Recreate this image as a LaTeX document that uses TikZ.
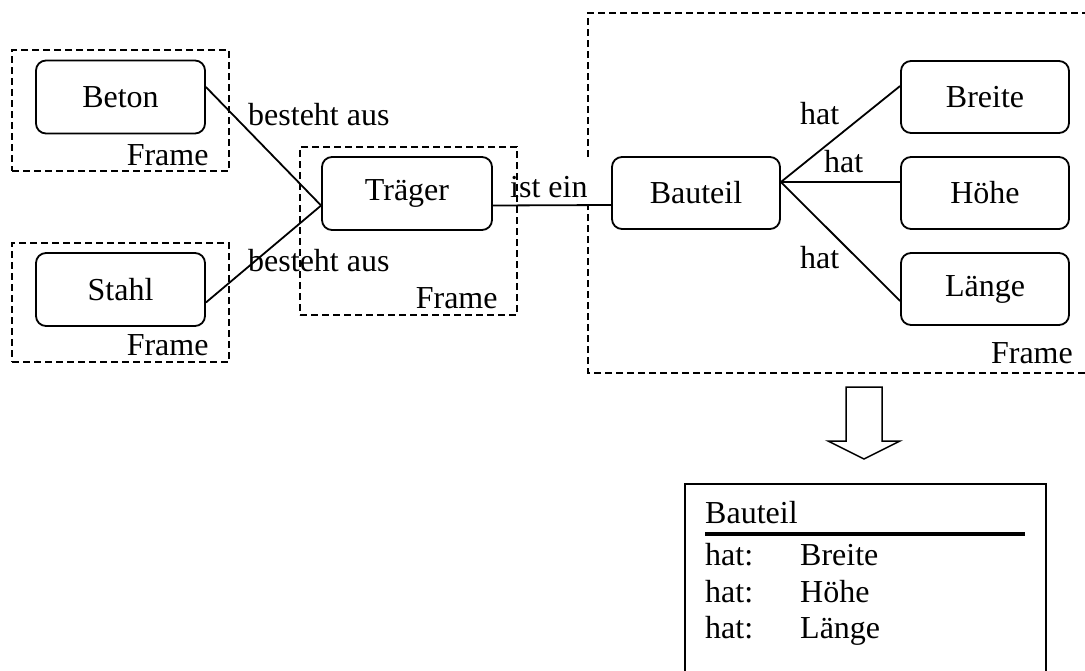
\documentclass[tikz,border=0pt]{standalone}
\usepackage{fontspec}
\setmainfont{Liberation Serif}
\usetikzlibrary{calc}
\begin{document}
\begin{tikzpicture}[x=1pt,y=-1pt,
  every node/.style={font=\fontsize{32}{38}\selectfont},
  conbox/.style={draw, line width=1.8pt, rounded corners=10pt, minimum width=169pt, minimum height=73pt, inner sep=0pt},
  framebox/.style={draw, line width=1.5pt, dash pattern=on 7pt off 4pt, inner sep=0pt},
  frameline/.style={line width=1.5pt, dash pattern=on 7pt off 4pt},
  lbl/.style={anchor=base west, inner sep=0pt},
  framelbl/.style={anchor=base east, inner sep=0pt},
  link/.style={line width=1.8pt}]
\fill[white] (0,0) rectangle (1085,670);
\useasboundingbox (0,0) rectangle (1085,670);

% dashed frames on the left
\node[framebox, minimum width=217pt, minimum height=121pt] (f1) at (120.5,110.5) {};
\node[framebox, minimum width=217pt, minimum height=119pt] (f2) at (120.5,302.5) {};
\node[framebox, minimum width=217pt, minimum height=168pt] (f3) at (408.5,231) {};
\node[framelbl] (fl1) at ([xshift=-21pt,yshift=6pt]f1.south east) {Frame};
\node[framelbl] (fl2) at ([xshift=-21pt,yshift=7pt]f2.south east) {Frame};
\node[framelbl] (fl3) at ([xshift=-20pt,yshift=7pt]f3.south east) {Frame};

% large frame around the component, open at its left for the link
\coordinate (bf1) at (588,157);
\coordinate (bf2) at (588,13);
\coordinate (bf3) at (1085,13);
\coordinate (bf4) at (1085,373);
\coordinate (bf5) at (588,373);
\coordinate (bf6) at (588,205);
\draw[frameline] (bf1) -- (bf2) -- (bf3);
\draw[frameline] (bf4) -- (bf5) -- (bf6);
\node[framelbl] (fl4) at (1073,363) {Frame};

% concept boxes
\node[conbox] (beton) at (120.5,97) {Beton};
\node[conbox] (stahl) at (120.5,289.5) {Stahl};
\node[conbox, minimum width=170pt] (traeger) at (407,193.5) {Träger};
\node[conbox, minimum width=168pt, minimum height=72pt] (bauteil) at (696,193) {Bauteil};
\node[conbox, minimum width=168pt, minimum height=72pt] (breite) at (985,97) {Breite};
\node[conbox, minimum width=168pt, minimum height=72pt] (hoehe) at (985,193) {Höhe};
\node[conbox, minimum width=168pt, minimum height=72pt] (laenge) at (985,289) {Länge};

% relations
\draw[link] ([yshift=10pt]beton.east) -- ([yshift=-12pt]traeger.west);
\draw[link] ([yshift=-13pt]stahl.east) -- ([yshift=-12pt]traeger.west);
\draw[link] ([yshift=-12pt]traeger.east) -- ([yshift=-12pt]bauteil.west);
\draw[link] ([yshift=11pt]bauteil.east) -- ([yshift=11pt]breite.west);
\draw[link] ([yshift=11pt]bauteil.east) -- ([yshift=11pt]hoehe.west);
\draw[link] ([yshift=11pt]bauteil.east) -- ([yshift=-12pt]laenge.west);

\node[lbl] (r1) at (248,125) {besteht aus};
\node[lbl] (r2) at (248,271) {besteht aus};
\node[lbl] (r3) at (510,197) {ist ein};
\node[lbl] (r4) at (800,124) {hat};
\node[lbl] (r5) at (824,172) {hat};
\node[lbl] (r6) at (800,268) {hat};

% block arrow
\draw[line width=1.5pt, line join=miter] (846,387) -- (882,387) -- (882,441) -- (900,441) -- (864,459) -- (828,441) -- (846,441) -- cycle;

% resulting class box
\node[draw, line width=1.5pt, anchor=north west, minimum width=361pt, minimum height=220pt, inner sep=0pt] (cls) at (684,483) {};
\node[lbl] (cname) at (705,523) {Bauteil};
\draw[line width=3.5pt] (705,534) -- (1025,534);
\node[lbl] (h1) at (705,565) {hat:};
\node[lbl] (v1) at (800,565) {Breite};
\node[lbl] (h2) at (705,602) {hat:};
\node[lbl] (v2) at (800,602) {Höhe};
\node[lbl] (h3) at (705,638) {hat:};
\node[lbl] (v3) at (800,638) {Länge};
\end{tikzpicture}
\end{document}
